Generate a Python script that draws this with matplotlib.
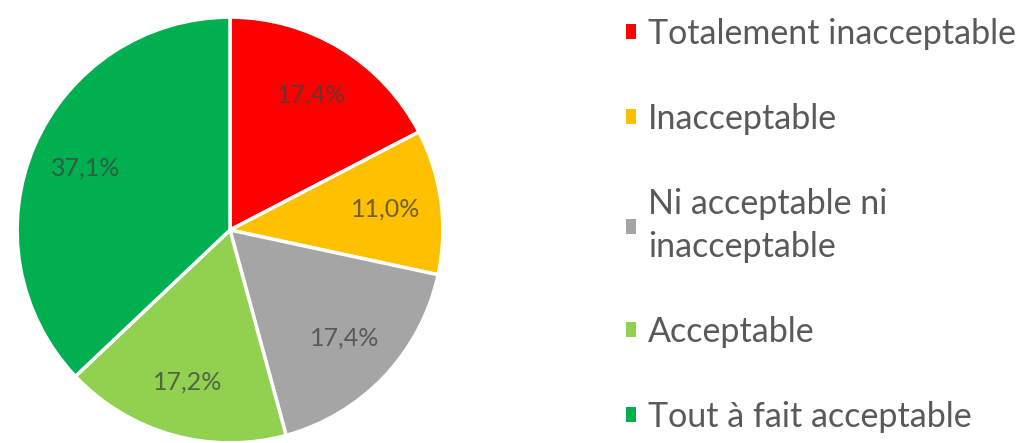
import matplotlib
matplotlib.use("Agg")
from matplotlib import pyplot as plt
from matplotlib.patches import Patch

plt.rcParams['font.family'] = ['Lato', 'DejaVu Sans']

categories = ["Totalement inacceptable", "Inacceptable", "Ni acceptable ni\ninacceptable",
              "Acceptable", "Tout à fait acceptable"]
values = [17.4, 11.0, 17.4, 17.2, 37.1]
labels = ["17,4%", "11,0%", "17,4%", "17,2%", "37,1%"]
colors = ["#FF0000", "#FFC000", "#A5A5A5", "#92D050", "#00B050"]

fig = plt.figure(figsize=(10.29, 4.43), dpi=100)
ax = fig.add_axes([15 / 1029, -2 / 443, 430 / 1029, 430 / 443])

wedges, texts = ax.pie(values, colors=colors, startangle=90, counterclock=False,
                       labels=labels, labeldistance=0.74,
                       wedgeprops=dict(edgecolor="white", linewidth=2.5))
for t in texts:
    t.set_fontsize(18)
    t.set_color("#404040")
    t.set_alpha(0.75)
    t.set_ha("center")
    t.set_va("center")
ax.set_xlim(-1.01, 1.01)
ax.set_ylim(-1.01, 1.01)
ax.set_aspect("equal")
ax.axis("off")

handles = [Patch(facecolor=c, edgecolor="none") for c in colors]
leg = fig.legend(handles, categories, loc="upper left", bbox_to_anchor=(612 / 1029, 0.99),
                 frameon=False, fontsize=24.5, labelcolor="#595959",
                 handlelength=0.3, handleheight=0.3, handletextpad=0.35,
                 labelspacing=1.55, borderaxespad=0.0)
leg.get_texts()[2].set_linespacing(1.45)

fig.savefig("out.png", dpi=100)
